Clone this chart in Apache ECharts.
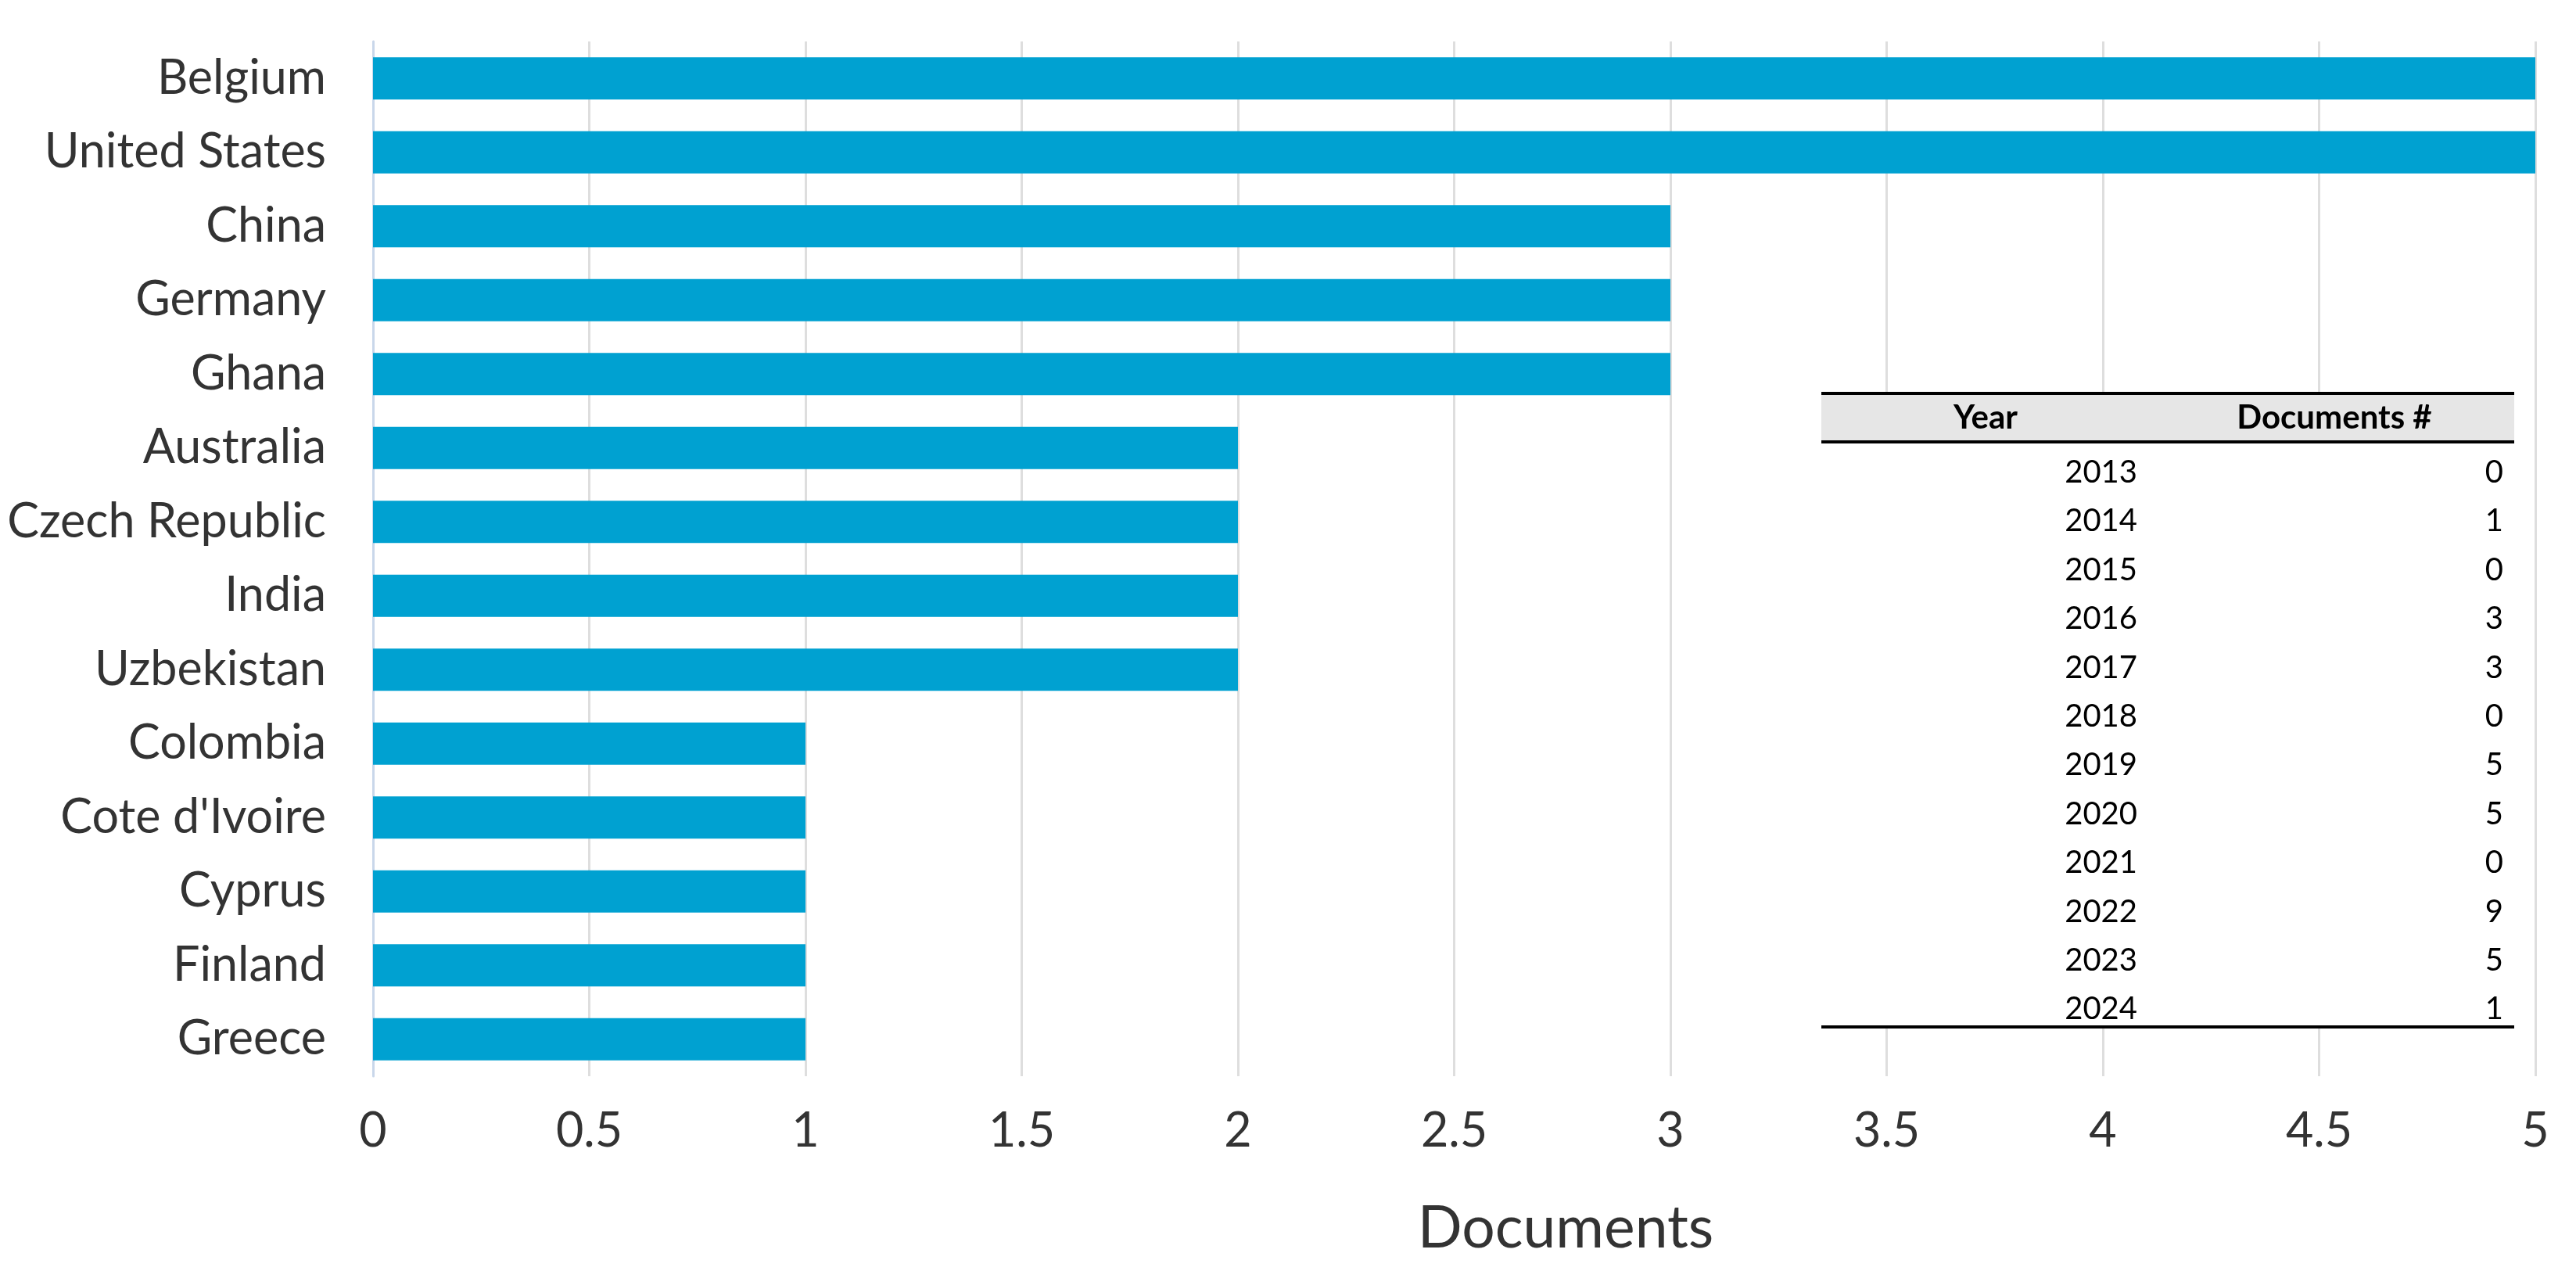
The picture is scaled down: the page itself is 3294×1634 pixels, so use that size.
<!DOCTYPE html>
<html>
<head>
<meta charset="utf-8">
<script src="https://cdn.jsdelivr.net/npm/echarts@6/dist/echarts.min.js"></script>
<style>
html,body{margin:0;padding:0;background:#fff;}
#chart{width:3294px;height:1634px;}
</style>
</head>
<body>
<div id="chart"></div>
<script>
const countries = ['Belgium','United States','China','Germany','Ghana','Australia','Czech Republic','India','Uzbekistan','Colombia',"Cote d'Ivoire",'Cyprus','Finland','Greece'];
const documents = [5,5,3,3,3,2,2,2,2,1,1,1,1,1];
const tableYears = ['2013','2014','2015','2016','2017','2018','2019','2020','2021','2022','2023','2024'];
const tableDocs = [0,1,0,3,3,0,5,5,0,9,5,1];
const tableHeaders = ['Year','Documents #'];
const axisTitle = 'Documents';

const chart = echarts.init(document.getElementById('chart'), null, {renderer:'canvas'});

const mainFont = 'Lato';
const tableFont = 'Lato';
const tLeft = 2329, tRight = 3215, tTop = 503, tHeadBottom = 565, tBottom = 1313;
const rowY0 = 604, rowStep = 62.4;
const yearRight = 2733, valRight = 3201;

const graphics = [
  {type:'rect', shape:{x:tLeft, y:tTop, width:tRight-tLeft, height:tHeadBottom-tTop}, style:{fill:'#e6e6e6'}, z:10},
  {type:'line', shape:{x1:tLeft, y1:tTop, x2:tRight, y2:tTop}, style:{stroke:'#000', lineWidth:4}, z:11},
  {type:'line', shape:{x1:tLeft, y1:tHeadBottom, x2:tRight, y2:tHeadBottom}, style:{stroke:'#000', lineWidth:4}, z:11},
  {type:'line', shape:{x1:tLeft, y1:tBottom, x2:tRight, y2:tBottom}, style:{stroke:'#000', lineWidth:4}, z:11},
  {type:'rect', shape:{x:tLeft, y:tHeadBottom+2, width:tRight-tLeft, height:tBottom-tHeadBottom-4}, style:{fill:'#fff'}, z:9},
  {type:'text', x:2539, y:(tTop+tHeadBottom)/2, style:{text:tableHeaders[0], font:'bold 42px '+tableFont, fill:'#000', align:'center', verticalAlign:'middle'}, z:12},
  {type:'text', x:2985, y:(tTop+tHeadBottom)/2, style:{text:tableHeaders[1], font:'bold 42px '+tableFont, fill:'#000', align:'center', verticalAlign:'middle'}, z:12},
  {type:'text', x:2002, y:1571, style:{text:axisTitle, font:'75px '+mainFont, fill:'#333', align:'center', verticalAlign:'middle'}, z:12}
];
tableYears.forEach((yr, i) => {
  graphics.push({type:'text', x:yearRight, y:rowY0 + i*rowStep, style:{text:yr, font:'40px '+tableFont, fill:'#000', align:'right', verticalAlign:'middle'}, z:12});
  graphics.push({type:'text', x:valRight, y:rowY0 + i*rowStep, style:{text:String(tableDocs[i]), font:'40px '+tableFont, fill:'#000', align:'right', verticalAlign:'middle'}, z:12});
});

chart.setOption({
  animation:false,
  backgroundColor:'#fff',
  grid:{left:477, right:52, top:53, bottom:258, containLabel:false},
  xAxis:{
    type:'value', min:0, max:5, interval:0.5,
    axisLine:{show:false}, axisTick:{show:false},
    splitLine:{show:true, lineStyle:{color:'#dedede', width:3}},
    axisLabel:{fontSize:61, fontFamily:mainFont, color:'#333', margin:40}
  },
  yAxis:{
    type:'category', inverse:true, data:countries,
    axisLine:{show:true, lineStyle:{color:'#c9d7ea', width:3}},
    axisTick:{show:false},
    splitLine:{show:false},
    axisLabel:{fontSize:61, fontFamily:mainFont, color:'#333', margin:60}
  },
  series:[{
    type:'bar', data:documents, barWidth:54,
    itemStyle:{color:'#00a1d1'}
  }],
  graphic:graphics
});
</script>
</body>
</html>
